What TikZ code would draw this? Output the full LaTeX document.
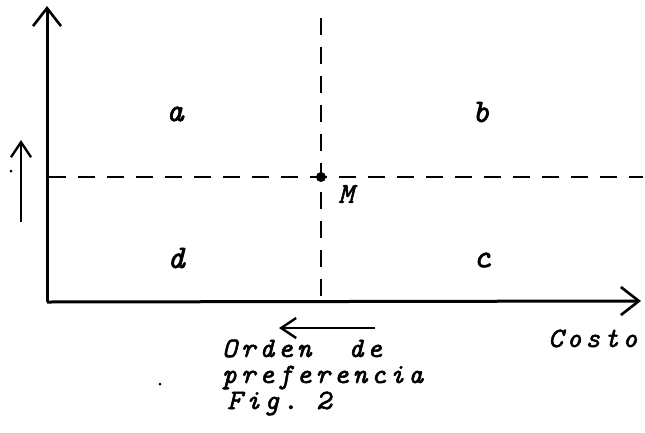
\documentclass[tikz,border=0pt]{standalone}
\usepackage{fontspec}
\newfontfamily\hand{lmmono10-italic.otf}[LetterSpace=14,FakeBold=2]
\newfontfamily\handlbl{lmmono10-italic.otf}[FakeBold=2]
\usetikzlibrary{arrows.meta}
\begin{document}
\begin{tikzpicture}[x=1pt,y=-1pt,
  axis/.style={line width=3pt,-{Straight Barb[length=18pt,width=28pt,line width=2.6pt]}},
  small/.style={line width=2.6pt,-{Straight Barb[length=15pt,width=20pt,line width=2.4pt]}},
  dashline/.style={line width=2.4pt,dash pattern=on 17pt off 12pt},
  lbl/.style={font=\fontsize{33}{36}\selectfont\handlbl,inner sep=0pt},
  txt/.style={font=\fontsize{28}{30}\selectfont\hand,inner sep=0pt,anchor=base west}]
\useasboundingbox (0,0) rectangle (645,432);
\coordinate (O) at (47,302);
\coordinate (Ytop) at (47,6);
\coordinate (Xend) at (641,301);
\coordinate (M) at (321,177);
\coordinate (Hl) at (49,177);
\coordinate (Hr) at (643,177);
\coordinate (Vt) at (321,18);
\coordinate (Vb) at (321,300);
\draw[dashline] (Hl) -- (Hr);
\draw[dashline] (Vt) -- (Vb);
\draw[axis] (O) -- (Ytop);
\draw[axis] (O) -- (Xend);
\fill (M) circle (5pt);
\coordinate (s1) at (21,222);
\coordinate (s2) at (21,140);
\draw[small] (s1) -- (s2);
\fill (11,171) circle (1.5pt);
\coordinate (p1) at (375,328);
\coordinate (p2) at (279,328);
\draw[small] (p1) -- (p2);
\fill (160,384) circle (1.5pt);
\node[lbl] (a) at (175,114) {a};
\node[lbl] (b) at (481,112) {b};
\node[lbl] (d) at (176,258) {d};
\node[lbl] (c) at (482,260) {c};
\node[lbl,font=\fontsize{29}{32}\selectfont\handlbl] (m) at (346,194) {M};
\node[txt] (costo) at (548,347) {Costo};
\node[txt] (orden) at (222,357) {Orden\ \ de};
\node[txt] (pref) at (222,383) {preferencia};
\node[txt] (fig) at (227,409) {Fig.~2};
\end{tikzpicture}
\end{document}
